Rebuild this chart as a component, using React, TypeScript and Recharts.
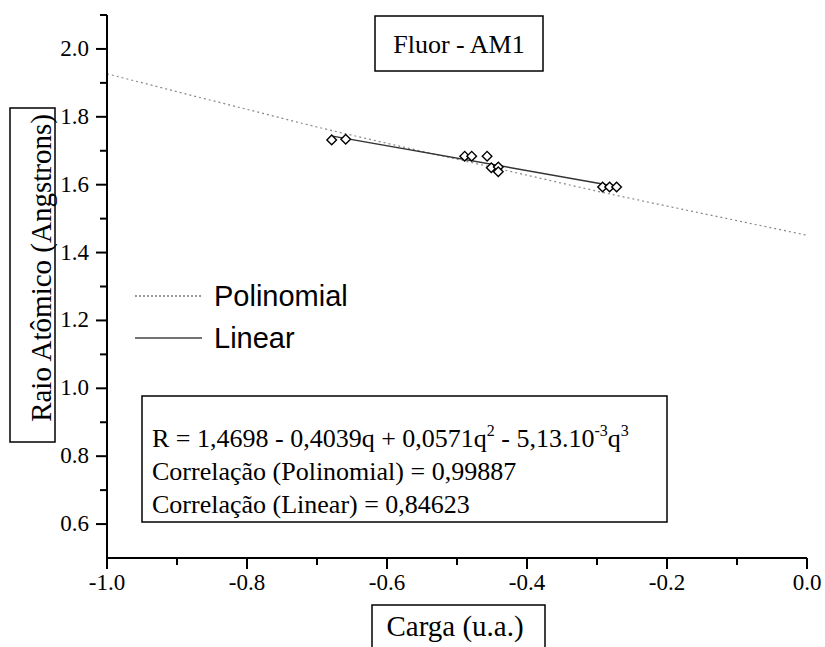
import React from "react";
import { ComposedChart, Line, Scatter, XAxis, YAxis, Legend } from "recharts";

// ==================== Dados ====================

// pontos experimentais (carga x raio)
const cargaPontos = [-0.679, -0.659, -0.489, -0.479, -0.457, -0.451, -0.441, -0.441, -0.292, -0.282, -0.272];
const raioPontos = [1.732, 1.734, 1.684, 1.684, 1.684, 1.650, 1.652, 1.638, 1.593, 1.593, 1.593];

// curva polinomial
const cargaPolinomial = [-1.0, -0.9, -0.8, -0.7, -0.6, -0.5, -0.4, -0.3, -0.2, -0.1, 0.0];
const raioPolinomial = [1.927, 1.874, 1.822, 1.770, 1.722, 1.675, 1.628, 1.581, 1.537, 1.494, 1.451];

// reta linear
const cargaLinear = [-0.68, -0.27];
const raioLinear = [1.744, 1.594];

const xTicks = [-1.0, -0.9, -0.8, -0.7, -0.6, -0.5, -0.4, -0.3, -0.2, -0.1, 0.0];
const yTicks = [0.6, 0.7, 0.8, 0.9, 1.0, 1.1, 1.2, 1.3, 1.4, 1.5, 1.6, 1.7, 1.8, 1.9, 2.0, 2.1];

const titulo = "Fluor - AM1";
const rotuloX = "Carga (u.a.)";
const rotuloY = "Raio Atômico (Angstrons)";
const nomePolinomial = "Polinomial";
const nomeLinear = "Linear";
const ordemLegenda = [nomePolinomial, nomeLinear];
const correlacaoPolinomial = "Correlação (Polinomial) = 0,99887";
const correlacaoLinear = "Correlação (Linear) = 0,84623";

const pontos = cargaPontos.map((c, i) => ({ carga: c, raio: raioPontos[i] }));
const polinomial = cargaPolinomial.map((c, i) => ({ carga: c, raio: raioPolinomial[i] }));
const linear = cargaLinear.map((c, i) => ({ carga: c, raio: raioLinear[i] }));

const SERIF = '"Liberation Serif", "Times New Roman", serif';
const SANS = '"Liberation Sans", Arial, sans-serif';

// ==================== Componentes ====================

const isMajor = (v: number) => Math.abs(Math.round(v * 10)) % 2 === 0;

const XTick = (props: any) => {
    const { x, y, payload } = props;
    const v = payload.value as number;
    const major = isMajor(v);
    return (
        <g>
            <line x1={x} y1={y} x2={x} y2={y + (major ? 11 : 7)} stroke="#000" strokeWidth={2} />
            {major && (
                <text x={x} y={y + 32} textAnchor="middle" fontFamily={SERIF} fontSize={23} fill="#000">
                    {v.toFixed(1)}
                </text>
            )}
        </g>
    );
};

const YTick = (props: any) => {
    const { x, y, payload } = props;
    const v = payload.value as number;
    const major = isMajor(v);
    return (
        <g>
            <line x1={x} y1={y} x2={x - (major ? 11 : 7)} y2={y} stroke="#000" strokeWidth={2} />
            {major && (
                <text x={x - 18} y={y + 7} textAnchor="end" fontFamily={SERIF} fontSize={23} fill="#000">
                    {v.toFixed(1)}
                </text>
            )}
        </g>
    );
};

const Diamond = (props: any) => {
    const { cx, cy } = props;
    const r = 4.8;
    return (
        <polygon
            points={`${cx},${cy - r} ${cx + r},${cy} ${cx},${cy + r} ${cx - r},${cy}`}
            fill="#fff"
            stroke="#000"
            strokeWidth={1.4}
        />
    );
};

const LegendaContent = (props: any) => {
    const items = (props.payload || [])
        .filter((p: any) => ordemLegenda.includes(p.value))
        .sort((a: any, b: any) => ordemLegenda.indexOf(a.value) - ordemLegenda.indexOf(b.value));
    return (
        <div>
            {items.map((item: any) => {
                const tracejado = item.value === nomePolinomial;
                return (
                    <div key={item.value} style={{ display: "flex", alignItems: "center", height: 42 }}>
                        <svg width={79} height={10}>
                            <line
                                x1={0}
                                y1={5}
                                x2={67}
                                y2={5}
                                stroke={tracejado ? "#777" : "#444"}
                                strokeWidth={1.3}
                                strokeDasharray={tracejado ? "2 2" : undefined}
                            />
                        </svg>
                        <span style={{ fontFamily: SANS, fontSize: 29, color: "#000" }}>{item.value}</span>
                    </div>
                );
            })}
        </div>
    );
};

// ==================== App ====================

const App: React.FC = () => {
    return (
        <div style={{ position: "absolute", left: 0, top: 0, width: 825, height: 647, background: "#fff", overflow: "hidden" }}>
            <ComposedChart
                width={825}
                height={647}
                margin={{ top: 15, right: 18, bottom: 59, left: 47 }}
            >
                <XAxis
                    type="number"
                    dataKey="carga"
                    domain={[-1, 0]}
                    ticks={xTicks}
                    tick={<XTick />}
                    tickLine={false}
                    tickSize={0}
                    tickMargin={0}
                    height={30}
                    allowDataOverflow
                    axisLine={{ stroke: "#000", strokeWidth: 2 }}
                    interval={0}
                />
                <YAxis
                    type="number"
                    dataKey="raio"
                    domain={[0.5, 2.1]}
                    ticks={yTicks}
                    tick={<YTick />}
                    tickLine={false}
                    tickSize={0}
                    tickMargin={0}
                    width={60}
                    allowDataOverflow
                    axisLine={{ stroke: "#000", strokeWidth: 2 }}
                    interval={0}
                />
                <Legend
                    layout="horizontal"
                    align="center"
                    verticalAlign="middle"
                    content={<LegendaContent />}
                    wrapperStyle={{ position: "absolute", left: 135, top: 275, width: 240, height: 90, bottom: "auto", right: "auto" }}
                />
                <Line
                    data={polinomial}
                    dataKey="raio"
                    name={nomePolinomial}
                    type="monotone"
                    stroke="#888"
                    strokeWidth={1.2}
                    strokeDasharray="2 3"
                    dot={false}
                    activeDot={false}
                    isAnimationActive={false}
                />
                <Line
                    data={linear}
                    dataKey="raio"
                    name={nomeLinear}
                    type="linear"
                    stroke="#333"
                    strokeWidth={1.4}
                    dot={false}
                    activeDot={false}
                    isAnimationActive={false}
                />
                <Scatter
                    data={pontos}
                    dataKey="raio"
                    name="Pontos"
                    legendType="none"
                    shape={<Diamond />}
                    isAnimationActive={false}
                />
            </ComposedChart>

            <svg width={825} height={647} style={{ position: "absolute", left: 0, top: 0, pointerEvents: "none" }}>
                {/* título */}
                <rect x={375} y={16} width={168} height={55} fill="#fff" stroke="#000" strokeWidth={1.5} />
                <text x={459} y={53} textAnchor="middle" fontFamily={SERIF} fontSize={26} fill="#000">
                    {titulo}
                </text>

                {/* rótulo Y */}
                <rect x={10} y={108} width={45} height={334} fill="#fff" stroke="#000" strokeWidth={1.5} />
                <text
                    transform="translate(51, 268) rotate(-90)"
                    textAnchor="middle"
                    fontFamily={SERIF}
                    fontSize={29}
                    fill="#000"
                >
                    {rotuloY}
                </text>

                {/* rótulo X */}
                <rect x={372} y={605} width={173} height={60} fill="#fff" stroke="#000" strokeWidth={1.5} />
                <text x={455} y={636} textAnchor="middle" fontFamily={SERIF} fontSize={29} fill="#000">
                    {rotuloX}
                </text>

                {/* equação */}
                <rect x={142} y={396} width={525} height={126} fill="#fff" stroke="#000" strokeWidth={1.5} />
                <text x={152} y={447} fontFamily={SERIF} fontSize={26} fill="#000">
                    R = 1,4698 - 0,4039q + 0,0571q
                    <tspan dy={-11} fontSize={16}>2</tspan>
                    <tspan dy={11}> - 5,13.10</tspan>
                    <tspan dy={-11} fontSize={16}>-3</tspan>
                    <tspan dy={11}>q</tspan>
                    <tspan dy={-11} fontSize={16}>3</tspan>
                </text>
                <text x={152} y={480} fontFamily={SERIF} fontSize={26} fill="#000">
                    {correlacaoPolinomial}
                </text>
                <text x={152} y={513} fontFamily={SERIF} fontSize={26} fill="#000">
                    {correlacaoLinear}
                </text>
            </svg>
        </div>
    );
};

export default App;
